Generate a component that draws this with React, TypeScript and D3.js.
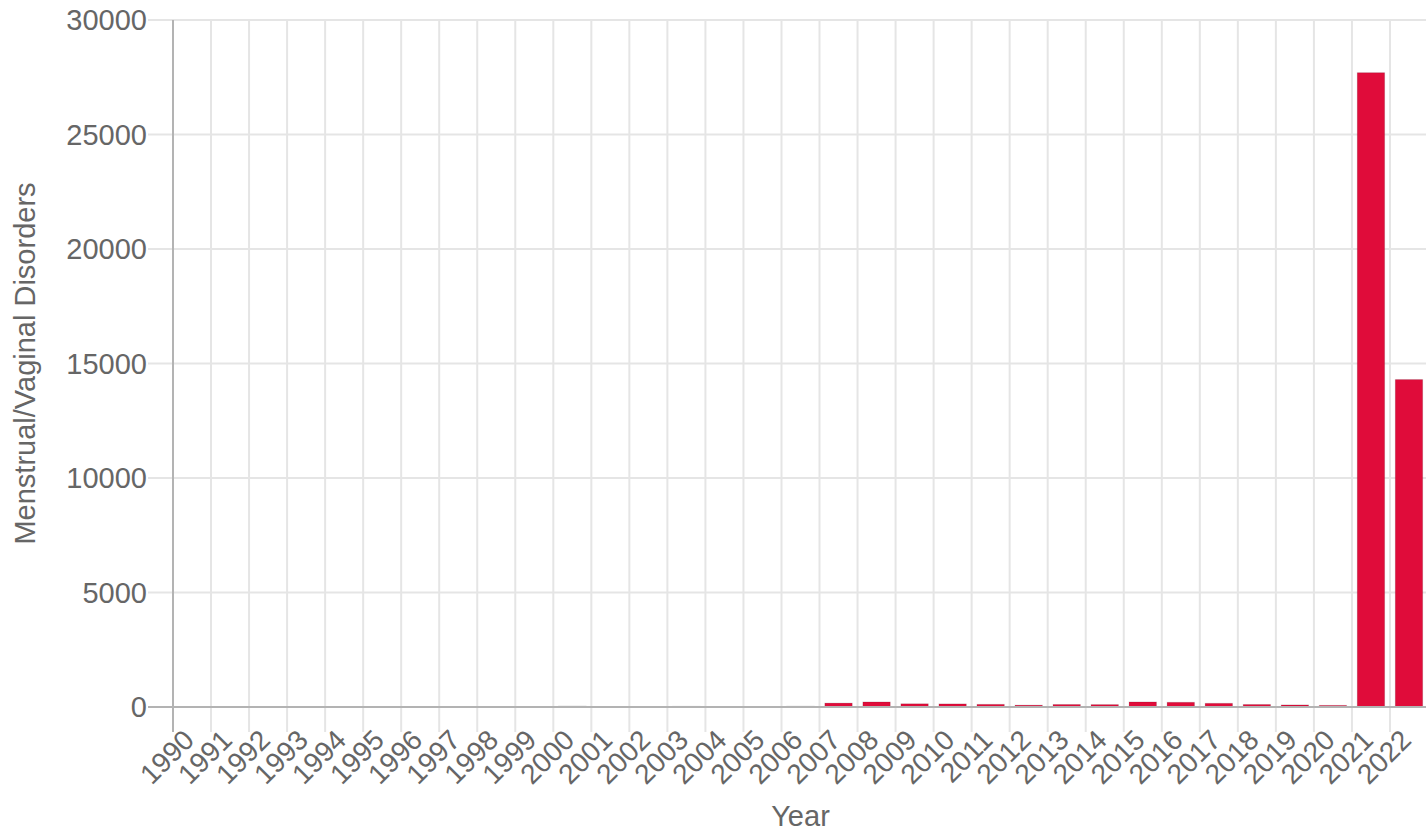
import React, { useEffect } from 'react';
import * as d3 from 'd3';

const years = [
  '1990', '1991', '1992', '1993', '1994', '1995', '1996', '1997', '1998', '1999',
  '2000', '2001', '2002', '2003', '2004', '2005', '2006', '2007', '2008', '2009',
  '2010', '2011', '2012', '2013', '2014', '2015', '2016', '2017', '2018', '2019',
  '2020', '2021', '2022',
];
const cases = [
  0, 0, 2, 8, 10, 3, 10, 8, 8, 5,
  40, 5, 5, 30, 6, 6, 35, 170, 220, 140,
  135, 115, 80, 110, 105, 220, 205, 160, 110, 90,
  70, 27700, 14300,
];
const yTicks = [0, 5000, 10000, 15000, 20000, 25000, 30000];

const W = 1426;
const H = 831;
const margin = { top: 20, right: -2, bottom: 124, left: 173 };
const font = '"Liberation Sans", Arial, Helvetica, sans-serif';
const textColor = '#666';
const gridColor = '#e5e5e5';
const axisColor = '#b3b3b3';

const App: React.FC = () => {
  useEffect(() => {
    document.body.style.margin = '0';
  }, []);

  const innerW = W - margin.left - margin.right;
  const innerH = H - margin.top - margin.bottom;
  const bottom = margin.top + innerH;

  const x = d3.scaleBand<string>()
    .domain(years)
    .range([margin.left, margin.left + innerW]);

  const y = d3.scaleLinear()
    .domain([0, 30000])
    .range([bottom, margin.top]);

  const step = x.step();
  const barW = step * 0.72;
  const tickLen = 25;

  return (
    <svg width={W} height={H} style={{ display: 'block', background: '#fff' }} fontFamily={font}>
      {/* vertical grid lines at category boundaries */}
      {years.map((yr, i) => (
        <line key={'vg' + yr} x1={x(yr)!} x2={x(yr)!} y1={margin.top} y2={bottom + tickLen}
          stroke={i === 0 ? axisColor : gridColor} strokeWidth={2} />
      ))}
      <line x1={margin.left + innerW} x2={margin.left + innerW} y1={margin.top} y2={bottom + tickLen}
        stroke={gridColor} strokeWidth={2} />

      {/* horizontal grid lines + y labels */}
      {yTicks.map(t => (
        <g key={'hy' + t}>
          <line x1={margin.left - tickLen} x2={margin.left + innerW} y1={y(t)} y2={y(t)}
            stroke={t === 0 ? axisColor : gridColor} strokeWidth={2} />
          <text x={margin.left - 26} y={y(t)} textAnchor="end" dominantBaseline="central"
            fontSize={29} fill={textColor}>{t}</text>
        </g>
      ))}

      {/* bars */}
      {years.map((yr, i) => {
        const v = cases[i];
        const top = y(v);
        return (
          <rect key={'b' + yr}
            x={x(yr)! + (step - barW) / 2}
            y={top}
            width={barW}
            height={Math.max(0, bottom - top)}
            fill="#e00c3a"
            stroke="rgba(0,0,0,0.12)"
            strokeWidth={1} />
        );
      })}

      {/* axis lines on top */}
      <line x1={margin.left} x2={margin.left} y1={margin.top} y2={bottom + tickLen} stroke={axisColor} strokeWidth={2} />
      <line x1={margin.left - tickLen} x2={margin.left + innerW} y1={bottom} y2={bottom} stroke={axisColor} strokeWidth={2} />

      {/* x labels rotated */}
      {years.map(yr => {
        const cx = x(yr)! + step / 2 - 3;
        const cy = bottom + 28;
        return (
          <text key={'xl' + yr} x={cx} y={cy} textAnchor="end" dominantBaseline="central"
            fontSize={28} fill={textColor} transform={`rotate(-45 ${cx} ${cy})`}>{yr}</text>
        );
      })}

      {/* axis titles */}
      <text x={margin.left + innerW / 2} y={826} textAnchor="middle" fontSize={29} fill={textColor}>Year</text>
      <text transform={`translate(${35}, ${margin.top + innerH / 2}) rotate(-90)`} textAnchor="middle"
        fontSize={29} fill={textColor}>Menstrual/Vaginal Disorders</text>
    </svg>
  );
};

export default App;
